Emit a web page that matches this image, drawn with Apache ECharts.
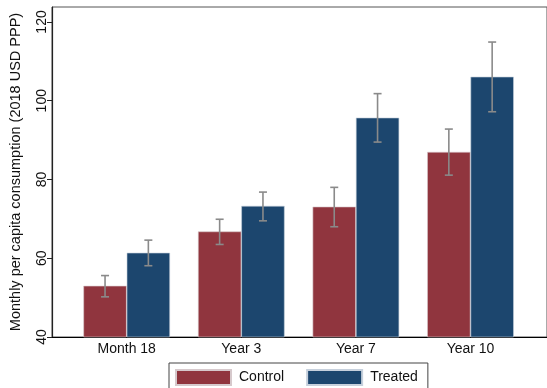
<!DOCTYPE html>
<html>
<head>
<meta charset="utf-8">
<script src="https://cdn.jsdelivr.net/npm/echarts@6/dist/echarts.min.js"></script>
<style>
  html, body { margin: 0; padding: 0; background: #fff; }
  #chart { width: 547px; height: 388px; }
</style>
</head>
<body>
<div id="chart"></div>
<script>
// Survey rounds
const categories = ['Month 18', 'Year 3', 'Year 7', 'Year 10'];
// Mean monthly per capita consumption (2018 USD PPP)
const controlMean = [53.0, 66.8, 73.1, 87.0];
const treatedMean = [61.4, 73.3, 95.7, 106.1];
// 95% confidence intervals
const controlLow  = [50.2, 63.5, 68.0, 81.1];
const controlHigh = [55.6, 69.9, 78.0, 92.8];
const treatedLow  = [58.1, 69.5, 89.5, 97.2];
const treatedHigh = [64.6, 76.8, 101.8, 114.9];
// Y axis ticks
const yTicks = [40, 60, 80, 100, 120];

const Y_MIN = 40, Y_MAX = 123.8;
const BAR_FRAC = 0.378;   // each bar's share of a category band
const FONT = '"Liberation Sans", Arial, Helvetica, sans-serif';

const chart = echarts.init(document.getElementById('chart'), null, { renderer: 'canvas' });

function errorBars(low, high, side) {
  return {
    type: 'custom',
    xAxisIndex: 1,
    yAxisIndex: 1,
    z: 5,
    silent: true,
    data: categories.map((c, i) => [i, low[i], high[i]]),
    encode: { x: 0, y: [1, 2] },
    renderItem: function (params, api) {
      const band = api.size([1, 0])[0];
      const idx = api.value(0);
      const x = api.coord([idx, Y_MIN])[0] + side * band * BAR_FRAC / 2;
      const yLo = api.coord([idx, api.value(1)])[1];
      const yHi = api.coord([idx, api.value(2)])[1];
      const cap = 4;
      const style = { stroke: '#8a8a8a', lineWidth: 1.6 };
      return {
        type: 'group',
        children: [
          { type: 'line', shape: { x1: x, y1: yLo, x2: x, y2: yHi }, style },
          { type: 'line', shape: { x1: x - cap, y1: yHi, x2: x + cap, y2: yHi }, style },
          { type: 'line', shape: { x1: x - cap, y1: yLo, x2: x + cap, y2: yLo }, style }
        ]
      };
    }
  };
}

const option = {
  backgroundColor: '#ffffff',
  animation: false,
  textStyle: { fontFamily: FONT },
  grid: [
    // outer frame with the value axis
    { left: 48, right: -3, top: 7, bottom: 51, show: true, borderColor: '#555', borderWidth: 1, backgroundColor: 'transparent' },
    // band area holding the grouped bars
    { left: 69.4, width: 458.4, top: 7, bottom: 51 }
  ],
  xAxis: [
    {
      gridIndex: 0, type: 'value', min: 0, max: 1,
      axisLine: { show: true, lineStyle: { color: '#000', width: 1.2 } },
      axisTick: { show: false }, axisLabel: { show: false }, splitLine: { show: false }
    },
    {
      gridIndex: 1, type: 'category', data: categories,
      axisLine: { show: false }, axisTick: { show: false },
      axisLabel: { color: '#111', fontSize: 14, margin: 5, fontFamily: FONT }
    }
  ],
  yAxis: [
    {
      gridIndex: 0, type: 'value', min: Y_MIN, max: Y_MAX,
      name: 'Monthly per capita consumption (2018 USD PPP)',
      nameLocation: 'middle', nameGap: 29,
      nameTextStyle: { color: '#111', fontSize: 14.5, fontFamily: FONT },
      axisLine: { show: true, lineStyle: { color: '#222', width: 1.2 } },
      axisTick: { show: true, length: 5, customValues: yTicks, lineStyle: { color: '#222' } },
      axisLabel: { rotate: 90, margin: 3, color: '#111', fontSize: 14, customValues: yTicks, fontFamily: FONT },
      splitLine: { show: false }
    },
    {
      gridIndex: 1, type: 'value', min: Y_MIN, max: Y_MAX, show: false, splitLine: { show: false }
    }
  ],
  legend: {
    left: 169, top: 363,
    padding: [6, 10, 6, 6],
    borderColor: '#444', borderWidth: 1,
    itemWidth: 55, itemHeight: 15, itemGap: 22,
    icon: 'rect',
    textStyle: { color: '#111', fontSize: 14, fontFamily: FONT, padding: [0, 0, 0, 3] },
    data: ['Control', 'Treated']
  },
  series: [
    {
      name: 'Control', type: 'bar', xAxisIndex: 1, yAxisIndex: 1,
      data: controlMean, barWidth: (BAR_FRAC * 100) + '%', barGap: '0%',
      itemStyle: { color: '#90353E', borderColor: '#d6c9cc', borderWidth: 0.6 }
    },
    {
      name: 'Treated', type: 'bar', xAxisIndex: 1, yAxisIndex: 1,
      data: treatedMean, barWidth: (BAR_FRAC * 100) + '%', barGap: '0%',
      itemStyle: { color: '#1C466E', borderColor: '#c6d0dc', borderWidth: 0.6 }
    },
    errorBars(controlLow, controlHigh, -1),
    errorBars(treatedLow, treatedHigh, 1)
  ]
};

chart.setOption(option);
</script>
</body>
</html>
